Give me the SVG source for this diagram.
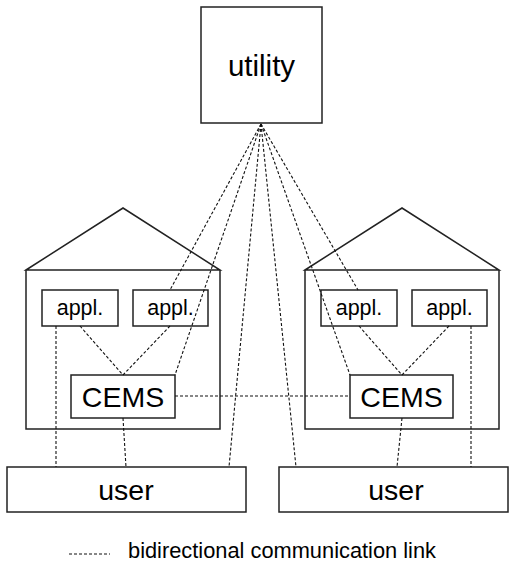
<svg xmlns="http://www.w3.org/2000/svg" width="509" height="562" viewBox="0 0 509 562">
<style>
.box{fill:#fff;stroke:#222;stroke-width:1.5}
.house{fill:none;stroke:#222;stroke-width:1.5;stroke-linejoin:miter}
.link{fill:none;stroke:#111;stroke-width:1.1;stroke-dasharray:3,2}
text{font-family:"Liberation Sans",Arial,sans-serif;fill:#000;text-anchor:middle}
</style>
<rect width="509" height="562" fill="#fff"/>
<g id="house-left"><path class="house" d="M26,270 L123,208 L220,270 Z M26,270 V429 H220 V270"/></g>
<g id="house-right"><path class="house" d="M305,270 L402,208 L499,270 Z M305,270 V429 H499 V270"/></g>
<g id="utility"><rect class="box" x="201" y="7" width="121" height="116"/><text x="261.5" y="76" font-size="29.5">utility</text></g>
<g id="appl-l1"><rect class="box" x="42" y="290" width="76" height="36"/><text x="80" y="315.3" font-size="21.5">appl.</text></g>
<g id="appl-l2"><rect class="box" x="133" y="290" width="75" height="36"/><text x="170.5" y="315.3" font-size="21.5">appl.</text></g>
<g id="appl-r1"><rect class="box" x="321" y="290" width="76" height="36"/><text x="359" y="315.3" font-size="21.5">appl.</text></g>
<g id="appl-r2"><rect class="box" x="412" y="290" width="75" height="36"/><text x="449.5" y="315.3" font-size="21.5">appl.</text></g>
<g id="cems-left"><rect class="box" x="71" y="375" width="104" height="43"/><text x="123" y="406.5" font-size="28.5">CEMS</text></g>
<g id="cems-right"><rect class="box" x="350" y="375" width="103" height="43"/><text x="401.5" y="406.5" font-size="28.5">CEMS</text></g>
<g id="user-left"><rect class="box" x="7" y="467" width="239" height="45"/><text x="126" y="499.7" font-size="28.5">user</text></g>
<g id="user-right"><rect class="box" x="279" y="467" width="229" height="45"/><text x="396" y="499.7" font-size="28.5">user</text></g>
<g id="connectors">
<line class="link" x1="261" y1="124" x2="170" y2="290"/>
<line class="link" x1="261" y1="124" x2="175" y2="375"/>
<line class="link" x1="261" y1="124" x2="229" y2="467"/>
<line class="link" x1="261" y1="124" x2="296" y2="467"/>
<line class="link" x1="261" y1="124" x2="358" y2="290"/>
<line class="link" x1="261" y1="124" x2="350" y2="375"/>
<line class="link" x1="56" y1="326" x2="56" y2="467"/>
<line class="link" x1="80" y1="326" x2="123" y2="375"/>
<line class="link" x1="170" y1="326" x2="123" y2="375"/>
<line class="link" x1="123" y1="418" x2="126" y2="467"/>
<line class="link" x1="359" y1="326" x2="402" y2="375"/>
<line class="link" x1="449" y1="326" x2="402" y2="375"/>
<line class="link" x1="471" y1="326" x2="471" y2="467"/>
<line class="link" x1="402" y1="418" x2="397" y2="467"/>
<line class="link" x1="175" y1="396" x2="350" y2="396"/>
</g>
<g id="legend">
<line class="link" x1="69" y1="554" x2="110" y2="554"/>
<text x="282" y="558" font-size="22" textLength="308" lengthAdjust="spacingAndGlyphs">bidirectional communication link</text>
</g>
</svg>
